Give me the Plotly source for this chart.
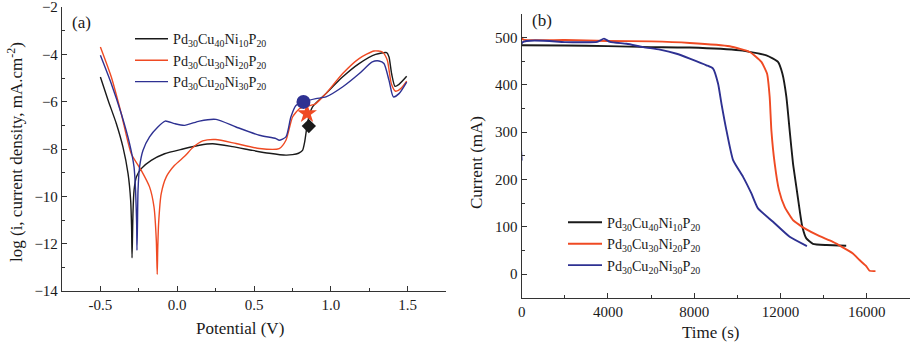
import plotly.graph_objects as go

W, H = 918, 345
FONT = "Liberation Serif"

names = ["Pd<sub>30</sub>Cu<sub>40</sub>Ni<sub>10</sub>P<sub>20</sub>",
         "Pd<sub>30</sub>Cu<sub>30</sub>Ni<sub>20</sub>P<sub>20</sub>",
         "Pd<sub>30</sub>Cu<sub>20</sub>Ni<sub>30</sub>P<sub>20</sub>"]
colors = ["#1a1a1a", "#ef4a23", "#2e3192"]

# ---- panel (a): polarization curves ----
pot_black = [-0.5, -0.45, -0.396, -0.353, -0.32, -0.303, -0.297, -0.294, -0.291, -0.288, -0.281,
             -0.266, -0.234, -0.169, -0.082, 0.037, 0.145, 0.231, 0.36, 0.491, 0.6, 0.708, 0.751,
             0.79, 0.816, 0.83, 0.838, 0.848, 0.88, 0.968, 1.076, 1.184, 1.292, 1.364, 1.379, 1.396,
             1.418, 1.444, 1.494]
logi_black = [-4.96, -5.94, -6.93, -7.92, -9.04, -10.17, -11.3, -12.6, -11.7, -10.73, -9.75,
              -9.18, -8.83, -8.48, -8.2, -8.0, -7.84, -7.78, -7.9, -8.06, -8.18, -8.26, -8.24,
              -8.18, -8.06, -7.7, -7.35, -6.9, -6.23, -5.66, -4.96, -4.39, -4.0, -3.93, -4.11,
              -4.82, -5.35, -5.27, -4.93]

pot_red = [-0.5, -0.429, -0.364, -0.299, -0.234, -0.18, -0.151, -0.136, -0.13, -0.127, -0.121,
           -0.104, -0.071, -0.017, 0.05, 0.1, 0.166, 0.25, 0.383, 0.535, 0.664, 0.708, 0.751, 0.795,
           0.844, 0.903, 0.968, 1.076, 1.184, 1.281, 1.336, 1.368, 1.394, 1.422, 1.455, 1.494]
logi_red = [-3.69, -4.96, -6.51, -8.2, -8.9, -9.6, -10.45, -11.86, -13.3, -12.3, -11.15,
            -9.89, -9.18, -8.69, -8.3, -7.95, -7.66, -7.6, -7.77, -7.98, -7.98, -7.63, -6.65,
            -6.3, -6.2, -6.08, -5.66, -4.82, -4.18, -3.86, -3.9, -4.25, -5.24, -5.56, -5.45, -5.13]

pot_blue = [-0.5, -0.429, -0.364, -0.31, -0.281, -0.271, -0.264, -0.262, -0.259, -0.255, -0.245,
            -0.223, -0.18, -0.126, -0.078, -0.017, 0.048, 0.145, 0.253, 0.383, 0.535, 0.643, 0.664,
            0.708, 0.74, 0.773, 0.822, 0.903, 0.968, 1.076, 1.184, 1.27, 1.314, 1.346, 1.379, 1.407,
            1.444, 1.494]
logi_blue = [-4.04, -5.24, -6.51, -7.77, -8.76, -9.75, -11.15, -12.28, -11.3, -9.75, -8.76,
             -8.06, -7.49, -7.07, -6.82, -6.93, -7.0, -6.82, -6.75, -7.07, -7.42, -7.56, -7.63,
             -7.49, -6.65, -6.16, -6.01, -5.87, -5.8, -5.38, -4.82, -4.32, -4.28, -4.39, -5.1, -5.8,
             -5.66, -5.17]

# passivation markers
mark_pot = [0.857, 0.845, 0.822]
mark_logi = [-7.03, -6.5, -6.01]
mark_symbols = ["diamond", "star", "circle"]
mark_sizes = [11, 15, 14]

# ---- panel (b): current vs time ----
t_black = [0, 2000, 4000, 6000, 7792, 10106, 11343, 11880, 12083, 12269, 12421, 12576, 12731,
           12885, 13009, 13194, 13500, 14131, 15043]
i_black = [484, 483.5, 482, 480, 479, 473, 462.7, 448.6, 424, 374.6, 304, 234, 184.5,
           135, 100, 75.4, 64, 61.3, 60]

t_red = [0, 60, 2000, 4000, 6000, 7792, 9644, 10570, 11111, 11372, 11495, 11574, 11727, 11926,
         12190, 12576, 12885, 13116, 13810, 14427, 15353, 15660, 15969, 16122, 16400]
i_red = [501, 496, 495, 493, 492, 488.7, 481.7, 469.7, 448.6, 424, 374.6, 304, 234, 177.5,
         142, 114, 103.5, 96.5, 80, 68, 43.6, 29.6, 17, 7, 6.3]

t_blue = [0, 30, 2000, 3500, 3815, 4093, 4865, 5637, 6409, 7181, 7792, 8565, 8870, 9102, 9259,
          9491, 9799, 10262, 10648, 10955, 11650, 12421, 13222]
i_blue = [240, 490, 490.5, 491, 498, 491, 487, 480, 474.6, 466, 455.7, 441.6, 434.6, 403, 360.6,
          304, 241, 205.6, 170.5, 138.8, 110.5, 78.8, 59.2]

pot_ticks = [-0.5, 0.0, 0.5, 1.0, 1.5]
pot_labels = ["-0.5", "0.0", "0.5", "1.0", "1.5"]
logi_ticks = [-14, -12, -10, -8, -6, -4, -2]
time_ticks = [0, 4000, 8000, 12000, 16000]
cur_ticks = [0, 100, 200, 300, 400, 500]

fig = go.Figure()

pol = [(pot_black, logi_black), (pot_red, logi_red), (pot_blue, logi_blue)]
for k, (xs, ys) in enumerate(pol):
    fig.add_trace(go.Scatter(x=xs, y=ys, mode="lines", name=names[k],
                             line=dict(color=colors[k], width=1.4, shape="spline", smoothing=0.6),
                             xaxis="x", yaxis="y", legend="legend"))
for k in range(3):
    fig.add_trace(go.Scatter(x=[mark_pot[k]], y=[mark_logi[k]], mode="markers", showlegend=False,
                             marker=dict(symbol=mark_symbols[k], size=mark_sizes[k], color=colors[k],
                                         line=dict(width=0)),
                             xaxis="x", yaxis="y"))

ct = [(t_black, i_black), (t_red, i_red), (t_blue, i_blue)]
for k, (xs, ys) in enumerate(ct):
    fig.add_trace(go.Scatter(x=xs, y=ys, mode="lines", name=names[k],
                             line=dict(color=colors[k], width=1.9, shape="spline", smoothing=0.5),
                             xaxis="x2", yaxis="y2", legend="legend2"))


def ax(**kw):
    base = dict(showline=True, linecolor="#333333", linewidth=1.3, ticks="inside",
                ticklen=5, tickwidth=1.2, tickcolor="#333333", showgrid=False, zeroline=False,
                automargin=False, mirror=False, ticklabeloverflow="allow",
                tickfont=dict(family=FONT, size=15, color="#1a1a1a"))
    base.update(kw)
    return base


def minor(dtick, tick0=0):
    return dict(ticks="inside", ticklen=3, tickwidth=1.1, tickcolor="#333333",
                dtick=dtick, tick0=tick0, showgrid=False)


fig.update_layout(
    template="none",
    width=W, height=H, margin=dict(l=0, r=0, t=0, b=0, pad=0),
    paper_bgcolor="white", plot_bgcolor="white",
    font=dict(family=FONT, size=15, color="#1a1a1a"),
    xaxis=ax(domain=[62 / W, 446 / W], range=[-0.75, 1.75], tickmode="array",
             tickvals=pot_ticks, ticktext=pot_labels, anchor="y", minor=minor(0.25, -0.75)),
    yaxis=ax(domain=[1 - 291 / H, 1 - 7 / H], range=[-14, -2], tickmode="array",
             tickvals=logi_ticks, anchor="x", minor=minor(1)),
    xaxis2=ax(domain=[521.7 / W, 910 / W], range=[0, 18000], tickmode="array",
              tickvals=time_ticks, tickformat="d", anchor="y2", minor=minor(2000)),
    yaxis2=ax(domain=[1 - 297.7 / H, 1 - 14 / H], range=[-50, 550], tickmode="array",
              tickvals=cur_ticks, anchor="x2", minor=minor(50)),
    legend=dict(x=130 / W, y=1 - 23 / H, xanchor="left", yanchor="top",
                bgcolor="rgba(0,0,0,0)", font=dict(family=FONT, size=14.2), itemwidth=33,
                tracegroupgap=0, borderwidth=0),
    legend2=dict(x=563 / W, y=1 - 206.5 / H, xanchor="left", yanchor="top",
                 bgcolor="rgba(0,0,0,0)", font=dict(family=FONT, size=14.2), itemwidth=34,
                 tracegroupgap=0, borderwidth=0),
)

annos = [
    dict(text="(a)", x=70 / W, y=1 - 22 / H, xanchor="left", yanchor="middle", font=dict(size=17)),
    dict(text="(b)", x=530 / W, y=1 - 21 / H, xanchor="left", yanchor="middle", font=dict(size=17)),
    dict(text="Potential (V)", x=240 / W, y=1 - 328 / H, xanchor="center", yanchor="middle",
         font=dict(size=17)),
    dict(text="Time (s)", x=710 / W, y=1 - 332 / H, xanchor="center", yanchor="middle",
         font=dict(size=17)),
    dict(text="log (i, current density, mA.cm<sup>-2</sup>)", x=15 / W, y=1 - 152 / H,
         xanchor="center", yanchor="middle", textangle=-90, font=dict(size=17)),
    dict(text="Current (mA)", x=476 / W, y=1 - 163 / H, xanchor="center", yanchor="middle",
         textangle=-90, font=dict(size=17)),
]
for a in annos:
    a.update(xref="paper", yref="paper", showarrow=False)
    a["font"] = dict(family=FONT, color="#1a1a1a", **a["font"])
    fig.add_annotation(**a)

fig.write_html("out.html", config={"displayModeBar": False},
               post_script="document.body.style.margin='0';document.body.style.overflow='hidden';")
